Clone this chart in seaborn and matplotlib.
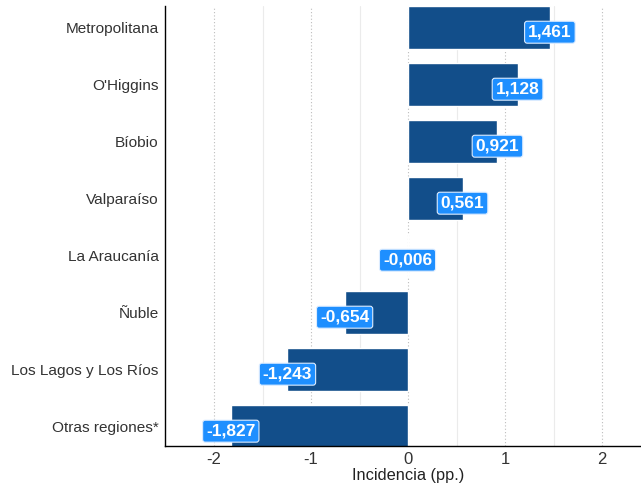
import matplotlib
matplotlib.use("Agg")
import matplotlib.pyplot as plt
import seaborn as sns
import pandas as pd

regiones = ["Metropolitana", "O'Higgins", "Bíobio", "Valparaíso", "La Araucanía",
            "Ñuble", "Los Lagos y Los Ríos", "Otras regiones*"]
incidencia = [1.461, 1.128, 0.921, 0.561, -0.006, -0.654, -1.243, -1.827]
xticks = [-2, -1, 0, 1, 2]

df = pd.DataFrame({"region": regiones, "inc": incidencia})

sns.set_theme(style="white")
plt.rcParams['font.family'] = ['Liberation Sans', 'DejaVu Sans']

fig = plt.figure(figsize=(6.41, 4.84), dpi=100)
ax = fig.add_axes([165/641, 38/484, 1 - 165/641, (446 - 6)/484])

bar_color = "#124E8A"
sns.barplot(data=df, x="inc", y="region", orient="h", color=bar_color,
            width=0.755, saturation=1, ax=ax, order=regiones)

ax.set_xlim(-2.505, 2.4)
ax.set_ylim(7.34, -0.38)

for v in [-1.5, -0.5, 0.5, 1.5]:
    ax.axvline(v, color="#ebebeb", lw=0.8, zorder=0)
for v in xticks:
    ax.axvline(v, color="#bdbdbd", lw=0.8, ls=(0, (1, 2)), zorder=0)

for i, v in enumerate(incidencia):
    lab = f"{v:.3f}".replace(".", ",")
    ax.text(v, i + 0.08, lab, ha="center", va="center", color="white",
            fontsize=12.5, fontweight="bold", zorder=5,
            bbox=dict(boxstyle="round,pad=0.2,rounding_size=0.15",
                      fc="#1E8FFF", ec="#dcecff", lw=0.8))

ax.set_xticks(xticks)
ax.set_xticklabels([str(t) for t in xticks], fontsize=12, color="#333333")
ax.tick_params(axis="y", labelsize=11.1, labelcolor="#333333", length=0, pad=4.5)
ax.tick_params(axis="x", length=0, pad=4)
ax.set_ylabel("")
ax.set_xlabel("Incidencia (pp.)", fontsize=11.8, color="#222222", labelpad=2)
ax.xaxis.set_label_coords((408 - 165) / 476, -0.05)
ax.xaxis.label.set_va("top")

for s in ["top", "right"]:
    ax.spines[s].set_visible(False)
for s in ["left", "bottom"]:
    ax.spines[s].set_color("black")
    ax.spines[s].set_linewidth(1.0)

fig.savefig("out.png", dpi=100)
